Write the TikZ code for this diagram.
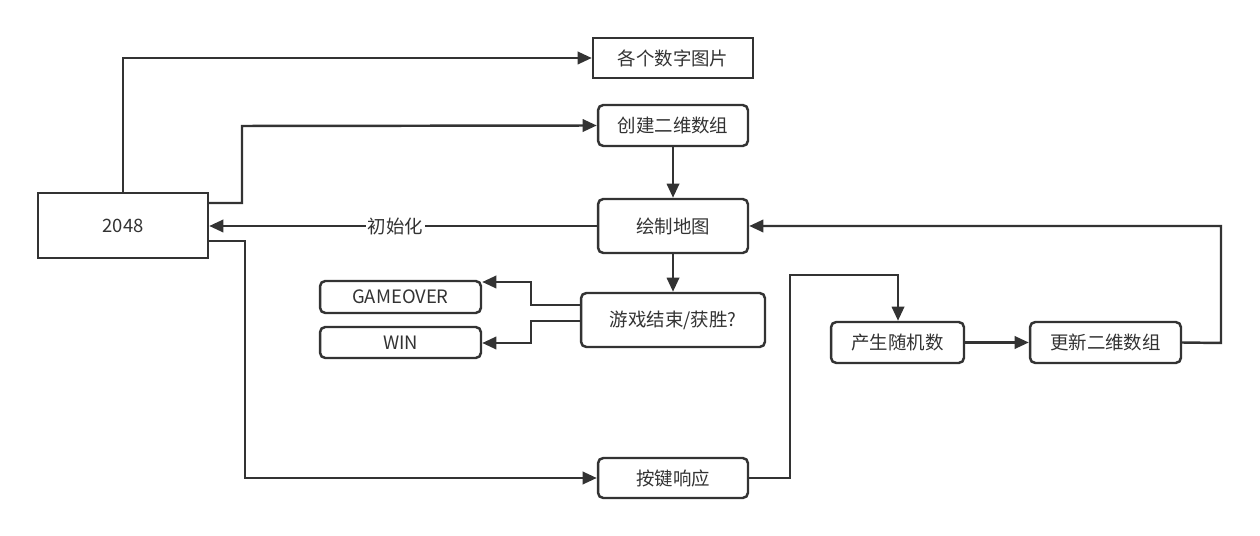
\documentclass[tikz,border=0pt]{standalone}
\usepackage{fontspec}
\setmainfont{Noto Sans CJK SC}
\usetikzlibrary{arrows.meta}
\definecolor{ln}{HTML}{333333}
\begin{document}
\begin{tikzpicture}[x=0.02cm,y=-0.02cm,
 bx/.style={draw=ln,line width=1.4pt,rounded corners=3pt,font=\fontsize{10.5}{12}\selectfont,text=ln},
 sq/.style={draw=ln,line width=1.4pt,font=\fontsize{10.5}{12}\selectfont,text=ln},
 ar/.style={draw=ln,line width=1.4pt,-{Triangle[length=8pt,width=7pt]}}]
\useasboundingbox (0,0) rectangle (1260,536);
\fill[white] (0,0) rectangle (1260,536);
\node[sq,minimum width=3.4cm,minimum height=1.3cm,inner sep=0] (a) at (123,225.5) {2048};
\node[sq,minimum width=3.2cm,minimum height=0.8cm,inner sep=0] (b) at (673,58) {各个数字图片};
\node[bx,minimum width=3cm,minimum height=0.82cm,inner sep=0] (c) at (673,125.5) {创建二维数组};
\node[bx,minimum width=3cm,minimum height=1.08cm,inner sep=0] (d) at (673,226) {绘制地图};
\node[bx,minimum width=3.68cm,minimum height=1.08cm,inner sep=0] (e) at (673,320) {游戏结束/获胜?};
\node[bx,minimum width=3.22cm,minimum height=0.64cm,inner sep=0] (g) at (400.5,297) {GAMEOVER};
\node[bx,minimum width=3.22cm,minimum height=0.62cm,inner sep=0] (w) at (400.5,342.5) {WIN};
\node[bx,minimum width=2.66cm,minimum height=0.82cm,inner sep=0] (r) at (897.5,342.5) {产生随机数};
\node[bx,minimum width=3.02cm,minimum height=0.82cm,inner sep=0] (u) at (1105.5,342.5) {更新二维数组};
\node[bx,minimum width=3cm,minimum height=0.8cm,inner sep=0] (k) at (673,478) {按键响应};
\draw[ar] (a.north) -- (123,58) -- (b.west);
\draw[ar] (208,203) -- (242,203) -- (242,126) -- (c.west);
\draw[ar] (c.south) -- (d.north);
\draw[ar] (d.west) -- node[fill=white,text=ln,font=\fontsize{10.5}{12}\selectfont,inner sep=1pt,pos=0.52]{初始化} (a.east|-d.west);
\draw[ar] (208,241) -- (245,241) -- (245,478) -- (k.west);
\draw[ar] (d.south) -- (e.north);
\draw[ar] (e.west|-0,305) -- (531,305) -- (531,282) -- (g.east|-0,282);
\draw[ar] (e.west|-0,321) -- (531,321) -- (531,343) -- (w.east|-0,343);
\draw[ar] (k.east) -- (790,478) -- (790,275) -- (898,275) -- (r.north-|898,0);
\draw[ar] (r.east) -- (u.west);
\draw[ar] (u.east) -- (1221,343) -- (1221,226) -- (d.east);
\end{tikzpicture}
\end{document}
